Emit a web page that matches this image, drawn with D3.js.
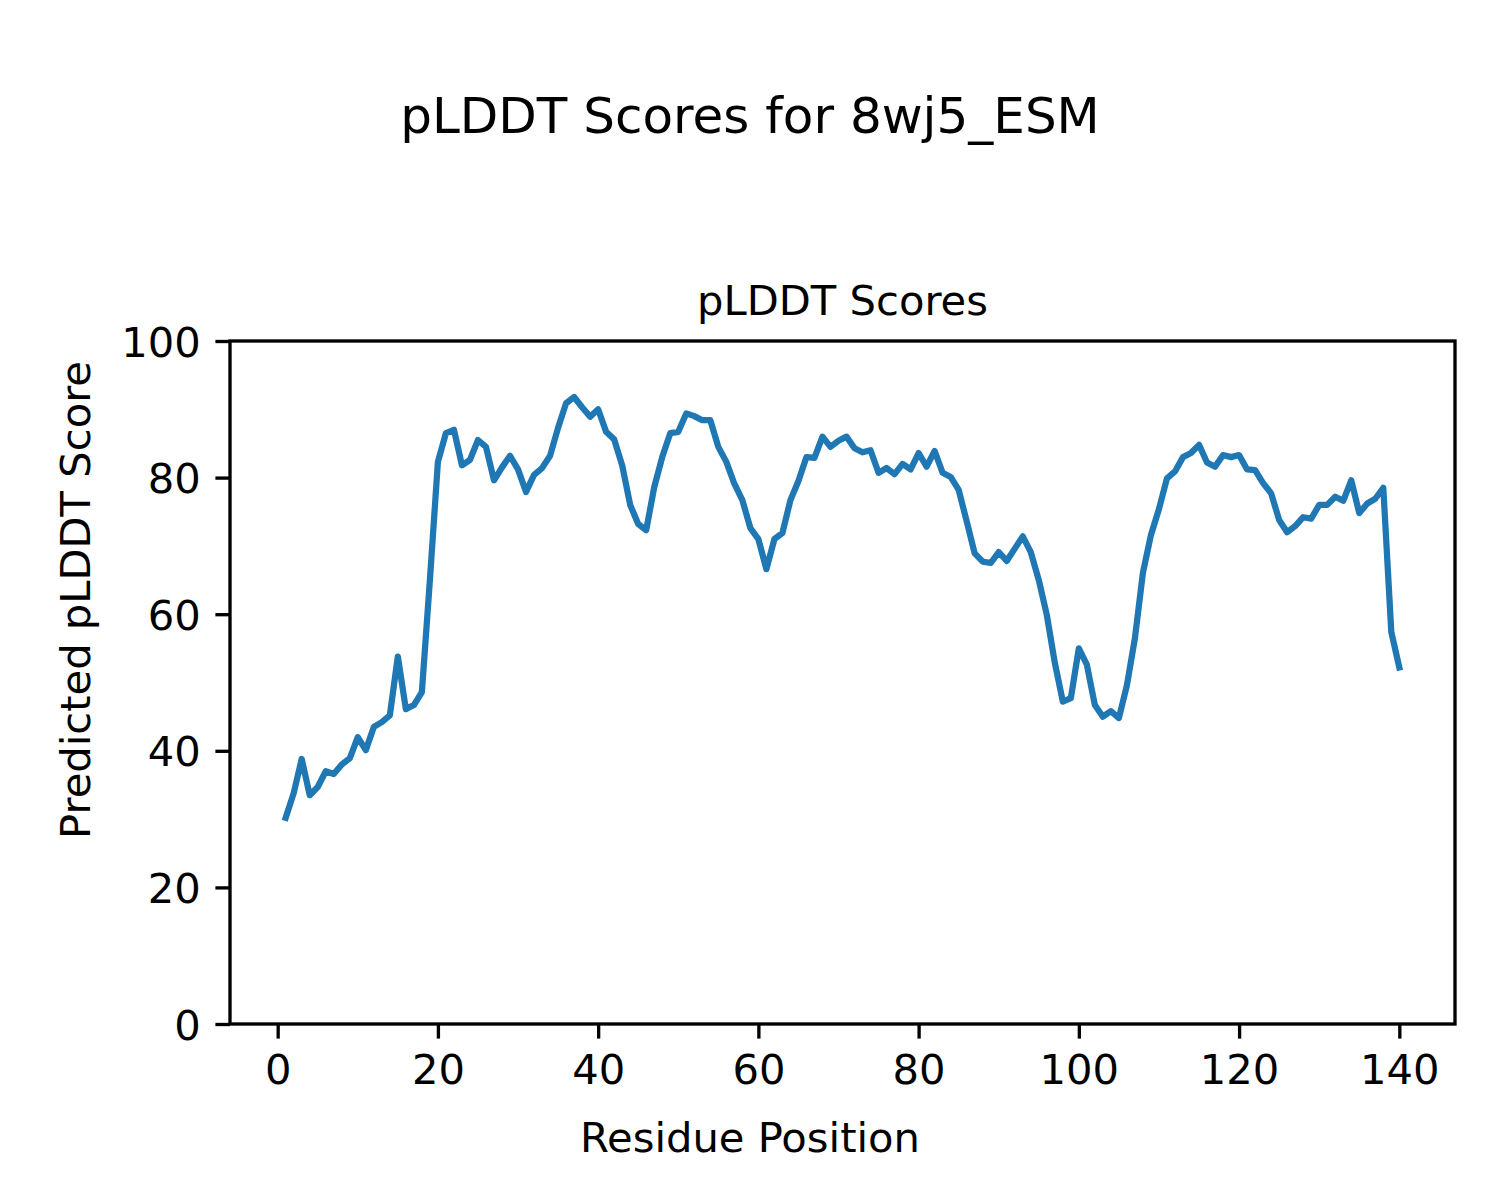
<!DOCTYPE html>
<html>
<head>
<meta charset="utf-8">
<script src="https://cdn.jsdelivr.net/npm/d3@7"></script>
<style>
  html, body { margin: 0; padding: 0; background: #ffffff; }
  svg text { font-family: "DejaVu Sans", sans-serif; fill: #000; }
</style>
</head>
<body>
<svg id="chart" width="1500" height="1200"></svg>
<script>
// ---- data ----
const figTitle = "pLDDT Scores for 8wj5_ESM";
const axesTitle = "pLDDT Scores";
const xLabel = "Residue Position";
const yLabel = "Predicted pLDDT Score";
const xTicks = [0, 20, 40, 60, 80, 100, 120, 140];
const yTicks = [0, 20, 40, 60, 80, 100];
const plddt = [
  30.2, 33.8, 38.8, 33.5, 34.7, 37.0, 36.6, 38.0, 38.9, 42.0,
  40.1, 43.5, 44.2, 45.2, 53.8, 46.1, 46.7, 48.6, 65.0, 82.3,
  86.5, 87.0, 81.8, 82.6, 85.5, 84.5, 79.6, 81.5, 83.2, 81.2,
  77.9, 80.4, 81.4, 83.2, 87.3, 90.9, 91.8, 90.3, 88.9, 90.0,
  86.7, 85.6, 81.8, 76.0, 73.2, 72.3, 78.6, 83.0, 86.5, 86.7,
  89.4, 89.0, 88.4, 88.4, 84.5, 82.3, 79.1, 76.7, 72.6, 71.0,
  66.6, 71.0, 71.9, 76.7, 79.5, 83.0, 82.9, 86.0, 84.5, 85.4,
  86.0, 84.3, 83.7, 84.0, 80.7, 81.4, 80.5, 82.0, 81.2, 83.6,
  81.6, 83.9, 80.7, 80.1, 78.2, 73.6, 68.9, 67.7, 67.5, 69.1,
  67.8, 69.6, 71.4, 69.1, 65.0, 59.9, 52.9, 47.2, 47.7, 55.0,
  52.6, 46.7, 45.0, 45.8, 44.8, 49.6, 56.5, 66.1, 71.6, 75.4,
  79.9, 80.9, 83.0, 83.6, 84.8, 82.2, 81.6, 83.3, 83.0, 83.3,
  81.2, 81.1, 79.2, 77.7, 73.8, 72.0, 72.9, 74.2, 74.0, 76.0,
  76.0, 77.2, 76.6, 79.6, 74.8, 76.2, 76.9, 78.5, 57.4, 52.2
];
const residues = plddt.map((_, i) => i + 1);

// ---- layout ----
const W = 1500, H = 1200;
const plot = { left: 230, right: 1455, top: 341, bottom: 1024 };
const fs = 41.67;

const svg = d3.select("#chart");

const n = residues.length;
const span = residues[n - 1] - residues[0];
const x = d3.scaleLinear()
  .domain([residues[0] - 0.05 * span, residues[n - 1] + 0.05 * span])
  .range([plot.left, plot.right]);
const y = d3.scaleLinear().domain([0, 100]).range([plot.bottom, plot.top]);

// line
const line = d3.line().x((d, i) => x(residues[i])).y(d => y(d));
svg.append("path")
  .datum(plddt)
  .attr("d", line)
  .attr("fill", "none")
  .attr("stroke", "#1f77b4")
  .attr("stroke-width", 6.25)
  .attr("stroke-linejoin", "round")
  .attr("stroke-linecap", "square");

// axes
const xAxis = d3.axisBottom(x).tickValues(xTicks).tickSize(14.6).tickPadding(14.6).tickSizeOuter(0);
const yAxis = d3.axisLeft(y).tickValues(yTicks).tickSize(14.6).tickPadding(14.6).tickSizeOuter(0);

const gx = svg.append("g").attr("transform", `translate(0,${plot.bottom})`).call(xAxis);
const gy = svg.append("g").attr("transform", `translate(${plot.left},0)`).call(yAxis);
[gx, gy].forEach(g => {
  g.select(".domain").remove();
  g.selectAll(".tick line").attr("stroke", "#000").attr("stroke-width", 3.33);
  g.selectAll(".tick text").style("font-size", fs + "px").attr("font-family", "DejaVu Sans").attr("fill", "#000");
});
gx.selectAll(".tick text").attr("dy", null).attr("y", 14.6 + 14.6).attr("dominant-baseline", "hanging");
gy.selectAll(".tick text").attr("dy", "0.36em");

// frame
svg.append("rect")
  .attr("x", plot.left).attr("y", plot.top)
  .attr("width", plot.right - plot.left).attr("height", plot.bottom - plot.top)
  .attr("fill", "none").attr("stroke", "#000").attr("stroke-width", 3.33)
  .attr("stroke-linejoin", "miter");

// titles
svg.append("text")
  .attr("x", 750).attr("y", 133)
  .attr("text-anchor", "middle")
  .style("font-size", "50px")
  .text(figTitle);

svg.append("text")
  .attr("x", (plot.left + plot.right) / 2).attr("y", 315)
  .attr("text-anchor", "middle")
  .style("font-size", fs + "px")
  .text(axesTitle);

svg.append("text")
  .attr("x", 750).attr("y", 1152)
  .attr("text-anchor", "middle")
  .style("font-size", fs + "px")
  .text(xLabel);

svg.append("text")
  .attr("transform", `translate(90,600) rotate(-90)`)
  .attr("text-anchor", "middle")
  .style("font-size", fs + "px")
  .text(yLabel);
</script>
</body>
</html>
